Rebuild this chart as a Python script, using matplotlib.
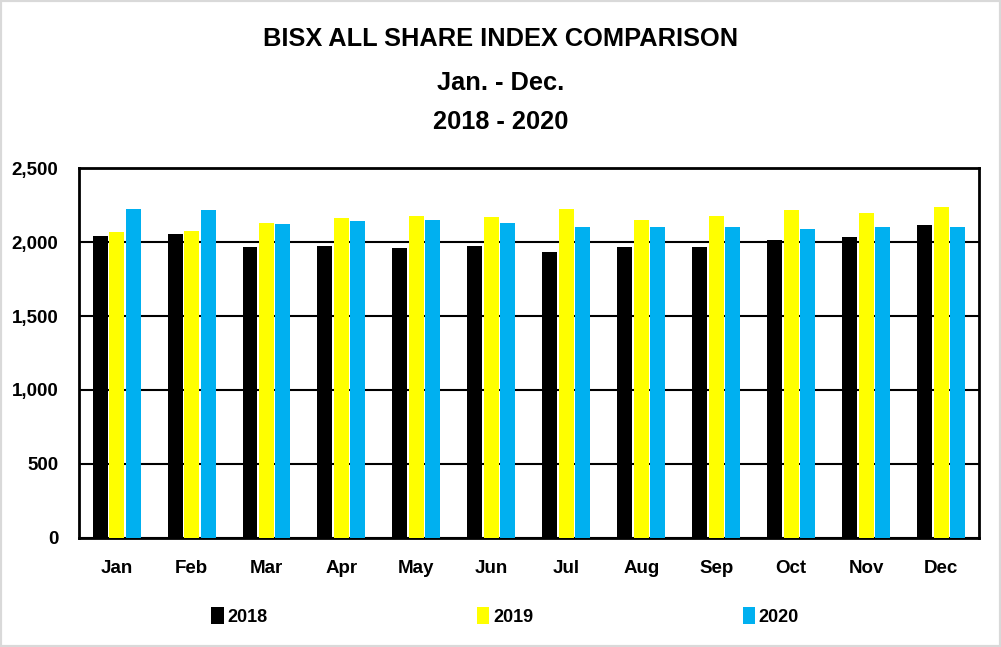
import matplotlib
matplotlib.use("Agg")
import matplotlib.pyplot as plt
from matplotlib.patches import Patch, Rectangle
import numpy as np

months = ["Jan", "Feb", "Mar", "Apr", "May", "Jun",
          "Jul", "Aug", "Sep", "Oct", "Nov", "Dec"]
series_names = ["2018", "2019", "2020"]
values_2018 = [2043, 2057, 1969, 1976, 1962, 1976, 1935, 1969, 1969, 2011, 2032, 2113]
values_2019 = [2066, 2072, 2126, 2160, 2174, 2167, 2221, 2147, 2174, 2214, 2194, 2234]
values_2020 = [2221, 2214, 2120, 2140, 2147, 2126, 2099, 2099, 2099, 2086, 2099, 2099]
colors = ["#000000", "#ffff00", "#00b0f0"]

plt.rcParams["font.family"] = ["Liberation Sans", "DejaVu Sans"]
plt.rcParams["font.weight"] = "bold"

fig = plt.figure(figsize=(10.01, 6.47), dpi=100)
fig.patches.append(Rectangle((0, 0), 1, 1, transform=fig.transFigure,
                             fill=False, edgecolor="#d9d9d9", linewidth=3))
ax = fig.add_axes([0.079, 0.1685, 0.8987, 0.5718])

x = np.arange(len(months))
width = 0.2
offsets = [-0.22, 0.0, 0.22]
for vals, off, col, name in zip([values_2018, values_2019, values_2020],
                                offsets, colors, series_names):
    ax.bar(x + off, vals, width, color=col, label=name, zorder=3)

ax.set_xlim(-0.5, len(months) - 0.5)
ax.set_ylim(0, 2500)
ax.set_yticks(np.arange(0, 2501, 500))
ax.set_yticklabels([f"{v:,}" for v in range(0, 2501, 500)])
ax.set_xticks(x)
ax.set_xticklabels(months)
ax.tick_params(axis="both", length=0, labelsize=13.5)
ax.tick_params(axis="x", pad=16)
ax.tick_params(axis="y", pad=15)
ax.yaxis.grid(True, color="black", linewidth=1.5, zorder=0)
for s in ax.spines.values():
    s.set_linewidth(2)
    s.set_color("black")

title_lines = ["BISX ALL SHARE INDEX COMPARISON", "Jan. - Dec.", "2018 - 2020"]
for line, y in zip(title_lines, [0.94, 0.872, 0.811]):
    fig.text(0.5, y, line, ha="center", va="center", fontsize=18.3, fontweight="bold")

handles = [Patch(facecolor=c, edgecolor="none") for c in colors]
fig.legend(handles, series_names, loc="center", bbox_to_anchor=(0.5045, 0.047),
           ncol=3, frameon=False, fontsize=13, handlelength=0.7, handleheight=1.0,
           handletextpad=0.2, columnspacing=11.6)

fig.savefig("out.png", dpi=100)
